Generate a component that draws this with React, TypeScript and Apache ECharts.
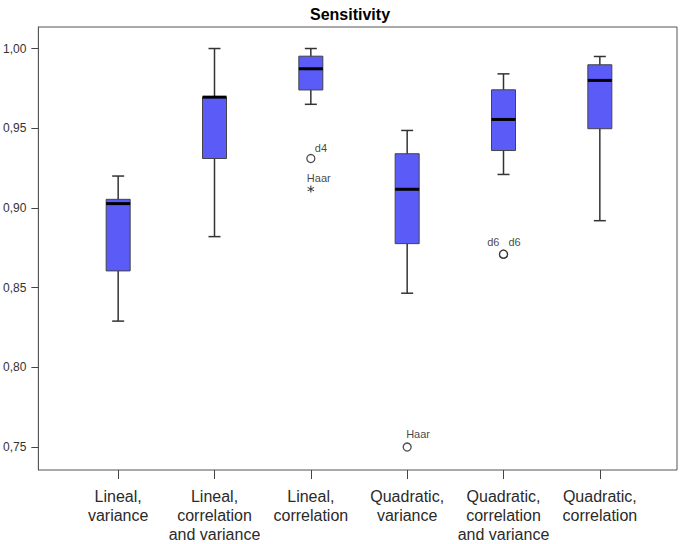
import React, { useEffect, useRef } from "react";
import * as echarts from "echarts";

const categories = [
  "Lineal,\nvariance",
  "Lineal,\ncorrelation\nand variance",
  "Lineal,\ncorrelation",
  "Quadratic,\nvariance",
  "Quadratic,\ncorrelation\nand variance",
  "Quadratic,\ncorrelation",
];
const whiskerLow = [0.829, 0.882, 0.965, 0.8465, 0.921, 0.892];
const q1 = [0.8605, 0.931, 0.974, 0.8776, 0.936, 0.9497];
const median = [0.9027, 0.9695, 0.9873, 0.9117, 0.9555, 0.98];
const q3 = [0.9054, 0.9695, 0.9952, 0.934, 0.9741, 0.9898];
const whiskerHigh = [0.92, 1.0, 1.0, 0.9486, 0.9841, 0.995];

const outlierCategory = [2, 2, 3, 4, 4];
const outlierValue = [0.931, 0.9118, 0.75, 0.871, 0.871];
const outlierLabel = ["d4", "Haar", "Haar", "d6", "d6"];
const outlierMarker = ["circle", "star", "circle", "circle", "circle"];

const yTickValues = [0.75, 0.8, 0.85, 0.9, 0.95, 1.0];
const yMin = 0.7356;
const yMax = 1.0135;

// label placement (style only)
const labelPlacement: [number, number, string][] = [
  [4, -11, "left"],
  [-4, -11, "left"],
  [-1, -13, "left"],
  [-4, -12, "right"],
  [5, -12, "left"],
];

const STAR =
  "path://M-0.9 -6 L-0.9 6 L0.9 6 L0.9 -6 Z M4.746 3.779 L5.646 2.221 L-4.746 -3.779 L-5.646 -2.221 Z M5.646 -2.221 L4.746 -3.779 L-5.646 2.221 L-4.746 3.779 Z";

const FONT = "'Liberation Sans', Arial, sans-serif";

export default function App() {
  const ref = useRef<HTMLDivElement>(null);
  useEffect(() => {
    document.body.style.margin = "0";
    if (!ref.current) return;
    const chart = echarts.init(ref.current, undefined, { renderer: "svg" });
    const boxData = categories.map((_, i) => [i, whiskerLow[i], q1[i], median[i], q3[i], whiskerHigh[i]]);
    const outlierData = outlierValue.map((v, i) => ({
      value: [outlierCategory[i], v],
      name: outlierLabel[i],
      symbol: outlierMarker[i] === "star" ? STAR : "circle",
      symbolSize: outlierMarker[i] === "star" ? 7 : 8,
      itemStyle:
        outlierMarker[i] === "star"
          ? { color: "#111", borderWidth: 0 }
          : { color: "#fff", borderColor: "#222", borderWidth: 1.3 },
      label: {
        show: true,
        position: "inside",
        offset: [labelPlacement[i][0], labelPlacement[i][1]],
        align: labelPlacement[i][2],
        verticalAlign: "middle",
        formatter: outlierLabel[i],
        color: "#111",
        fontSize: 11,
        fontFamily: FONT,
      },
    }));
    chart.setOption({
      animation: false,
      textStyle: { fontFamily: FONT },
      title: {
        text: "Sensitivity",
        left: 305,
        top: 1,
        textStyle: { fontSize: 16, fontWeight: "bold", color: "#000", fontFamily: FONT },
      },
      grid: [
        { left: 38, top: 27, width: 639, height: 443, show: true, borderColor: "#555", borderWidth: 1 },
        { left: 70, top: 27, width: 578, height: 443 },
      ],
      xAxis: [
        { gridIndex: 0, type: "value", min: 0, max: 1, show: false },
        {
          gridIndex: 1,
          type: "category",
          data: categories,
          axisLine: { show: false },
          axisTick: { show: true, alignWithLabel: true, length: 9, lineStyle: { color: "#444" } },
          axisLabel: {
            interval: 0,
            fontSize: 16,
            lineHeight: 19,
            color: "#2a2a2a",
            margin: 17,
            fontFamily: FONT,
          },
          splitLine: { show: false },
        },
      ],
      yAxis: [
        {
          gridIndex: 0,
          type: "value",
          min: yMin,
          max: yMax,
          axisLine: { show: true, lineStyle: { color: "#555" } },
          axisTick: { show: true, length: 7, customValues: yTickValues, lineStyle: { color: "#444" } },
          axisLabel: {
            customValues: yTickValues,
            formatter: (v: number) => v.toFixed(2).replace(".", ","),
            fontSize: 12,
            color: "#333",
            margin: 12,
            fontFamily: FONT,
          },
          splitLine: { show: false },
        },
        { gridIndex: 1, type: "value", min: yMin, max: yMax, show: false },
      ],
      series: [
        {
          type: "custom",
          xAxisIndex: 1,
          yAxisIndex: 1,
          data: boxData,
          encode: { x: 0, y: [1, 2, 3, 4, 5] },
          renderItem: (params: any, api: any) => {
            const x = api.value(0);
            const pLow = api.coord([x, api.value(1)]);
            const pQ1 = api.coord([x, api.value(2)]);
            const pMed = api.coord([x, api.value(3)]);
            const pQ3 = api.coord([x, api.value(4)]);
            const pHigh = api.coord([x, api.value(5)]);
            const cx = pLow[0];
            const hw = 12;
            const cw = 6;
            const wStyle = { stroke: "#333", lineWidth: 1.5 };
            return {
              type: "group",
              children: [
                { type: "line", shape: { x1: cx, y1: pHigh[1], x2: cx, y2: pLow[1] }, style: wStyle },
                { type: "line", shape: { x1: cx - cw, y1: pHigh[1], x2: cx + cw, y2: pHigh[1] }, style: wStyle },
                { type: "line", shape: { x1: cx - cw, y1: pLow[1], x2: cx + cw, y2: pLow[1] }, style: wStyle },
                {
                  type: "rect",
                  shape: { x: cx - hw, y: pQ3[1], width: hw * 2, height: pQ1[1] - pQ3[1] },
                  style: { fill: "#5b5bf8", stroke: "#444", lineWidth: 1 },
                },
                {
                  type: "line",
                  shape: { x1: cx - hw, y1: pMed[1], x2: cx + hw, y2: pMed[1] },
                  style: { stroke: "#000", lineWidth: 3 },
                },
              ],
            };
          },
        },
        {
          type: "scatter",
          xAxisIndex: 1,
          yAxisIndex: 1,
          data: outlierData,
          z: 5,
        },
      ],
    });
    return () => chart.dispose();
  }, []);
  return <div ref={ref} style={{ width: 685, height: 544 }} />;
}
